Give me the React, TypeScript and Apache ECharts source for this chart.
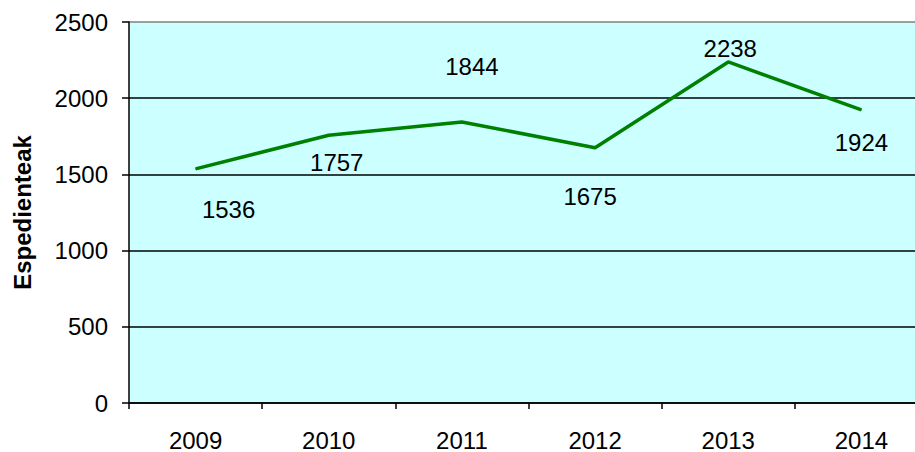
import React, { useEffect, useRef } from "react";
import * as echarts from "echarts";

const years = ["2009", "2010", "2011", "2012", "2013", "2014"];
const values = [1536, 1757, 1844, 1675, 2238, 1924];
const labelOffsets: [number, number][] = [
  [33, 41],
  [8, 27],
  [10, -55],
  [-5, 49],
  [2, -13],
  [0, 33],
];
const yTicks = [0, 500, 1000, 1500, 2000, 2500];

export default function App() {
  const ref = useRef<HTMLDivElement>(null);
  useEffect(() => {
    if (!ref.current) return;
    const chart = echarts.init(ref.current, undefined, { renderer: "svg" });
    const font = "Liberation Sans";
    chart.setOption({
      animation: false,
      grid: {
        left: 129,
        width: 799,
        top: 22,
        bottom: 49,
        show: true,
        backgroundColor: "#CCFFFF",
        borderWidth: 0,
        containLabel: false,
        outerBoundsMode: "none",
      },
      xAxis: {
        type: "category",
        data: years,
        boundaryGap: true,
        axisLine: { lineStyle: { color: "#000", width: 1.5 } },
        axisTick: { show: true, length: 6, lineStyle: { color: "#000", width: 1.5 } },
        axisLabel: { color: "#000", fontSize: 24, fontFamily: font, margin: 25 },
        splitLine: { show: false },
      },
      yAxis: {
        type: "value",
        min: yTicks[0],
        max: yTicks[yTicks.length - 1],
        interval: 500,
        name: "Espedienteak",
        nameLocation: "middle",
        nameGap: 95,
        nameRotate: 90,
        nameTextStyle: { color: "#000", fontSize: 24, fontWeight: "bold", fontFamily: font },
        axisLine: { show: true, lineStyle: { color: "#000", width: 1.5 } },
        axisTick: { show: true, length: 7, lineStyle: { color: "#000", width: 1.5 } },
        axisLabel: {
          color: "#000",
          fontSize: 24,
          fontFamily: font,
          margin: 21,
          formatter: (v: number) => String(v),
        },
        splitLine: {
          show: true,
          lineStyle: {
            color: ["#000", "#000", "#000", "#000", "#000", "#808080"],
            width: 1.5,
          },
        },
      },
      series: [
        {
          type: "line",
          data: values.map((v, i) => ({
            value: v,
            label: {
              show: true,
              position: [labelOffsets[i][0] + 0.5, labelOffsets[i][1] + 0.5],
              align: "center",
              verticalAlign: "middle",
            },
          })),
          showSymbol: true,
          symbol: "circle",
          symbolSize: 1,
          itemStyle: { color: "#008000" },
          lineStyle: { color: "#008000", width: 3.5 },
          label: {
            show: true,
            color: "#000",
            fontSize: 24,
            fontFamily: font,
            align: "center",
            verticalAlign: "middle",
          },
          labelLayout: { hideOverlap: false },
        },
      ],
    });
    return () => chart.dispose();
  }, []);
  return (
    <div
      ref={ref}
      style={{ position: "fixed", left: 0, top: 0, width: 915, height: 452, background: "#fff" }}
    />
  );
}
